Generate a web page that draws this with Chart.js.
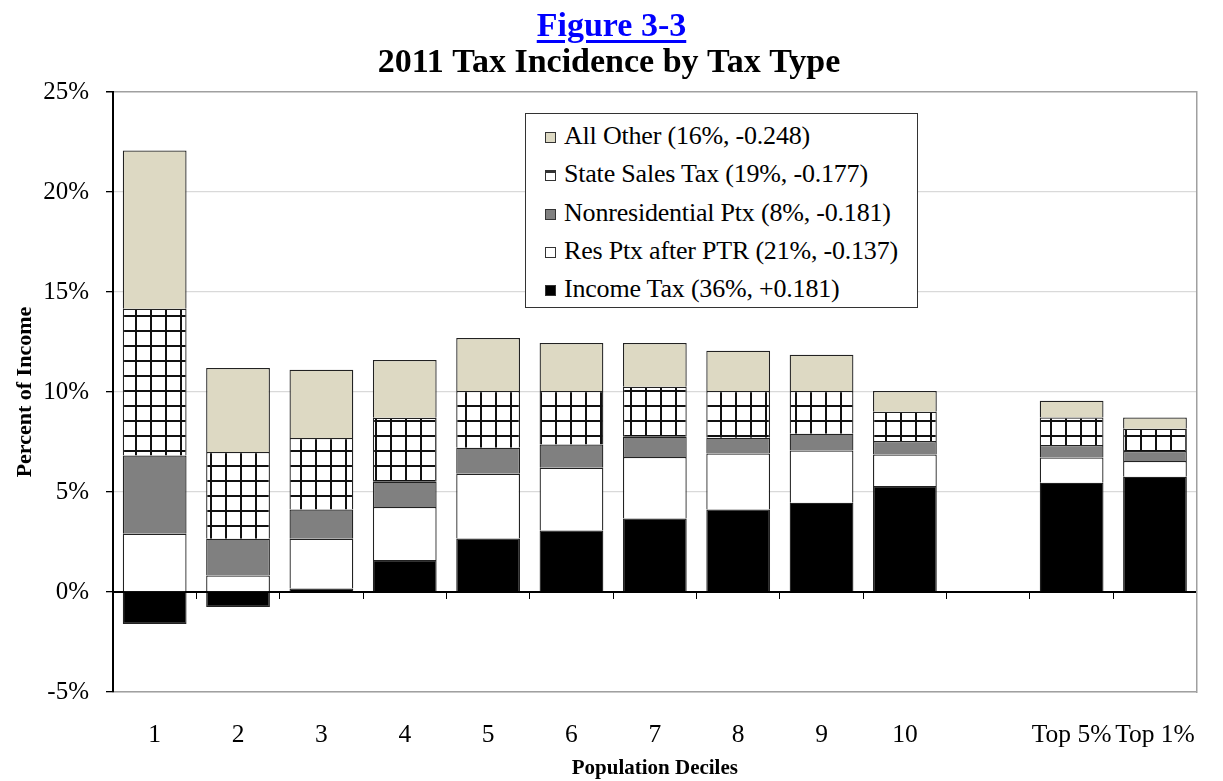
<!DOCTYPE html>
<html>
<head>
<meta charset="utf-8">
<script src="https://cdn.jsdelivr.net/npm/chart.js@4/dist/chart.umd.min.js"></script>
<style>
  html, body { margin:0; padding:0; background:#fff; }
  #wrap { position:relative; width:1223px; height:781px; }
  #fig { position:absolute; left:0; top:5px; width:1223px; text-align:center; line-height:40px;
         font-family:"Liberation Serif", serif; font-weight:bold; font-size:34px; color:#0000ff; }
  #fig span { text-decoration:underline; text-decoration-thickness:3px; text-underline-offset:4px; }
  #legend { position:absolute; left:525px; top:113px; width:393px; height:195px;
            border:1.5px solid #333; background:#fff; box-sizing:border-box;
            font-family:"Liberation Serif", serif; font-size:26px; color:#000; padding-top:3px; }
  .item { height:38.3px; line-height:38.3px; padding-left:19px; white-space:nowrap; letter-spacing:-0.2px; }
  .sw { display:inline-block; width:11px; height:11px; border:1px solid #333; margin-right:8px; vertical-align:1px; box-sizing:border-box; }
</style>
</head>
<body>
<div id="wrap">
  <canvas id="c" width="1223" height="781"></canvas>
  <div id="fig"><span>Figure 3-3</span></div>
  <div id="legend"></div>
</div>
<script>
const categories = ['1','2','3','4','5','6','7','8','9','10','','Top 5%','Top 1%'];
const incomeTax   = [-1.6, -0.75, 0.18, 1.6, 2.68, 3.08, 3.68, 4.13, 4.47, 5.3, null, 5.47, 5.77];
const resPtx      = [2.92, 0.83, 2.49, 2.65, 3.24, 3.14, 3.07, 2.80, 2.61, 1.58, null, 1.26, 0.78];
const nonresPtx   = [3.91, 1.84, 1.46, 1.27, 1.30, 1.16, 1.02, 0.79, 0.84, 0.67, null, 0.62, 0.50];
const salesTax    = [7.34, 4.33, 3.57, 3.20, 2.83, 2.67, 2.50, 2.33, 2.13, 1.47, null, 1.38, 1.12];
const allOther    = [7.91, 4.20, 3.42, 2.88, 2.65, 2.40, 2.18, 2.02, 1.82, 1.03, null, 0.84, 0.56];
const seriesNames = {
  income: 'Income Tax (36%, +0.181)',
  res: 'Res Ptx after PTR (21%, -0.137)',
  nonres: 'Nonresidential Ptx (8%, -0.181)',
  sales: 'State Sales Tax (19%, -0.177)',
  other: 'All Other (16%, -0.248)'
};
const yTicks = [-5, 0, 5, 10, 15, 20, 25];

const canvas = document.getElementById('c');
const ctx = canvas.getContext('2d');
function gridPattern() {
  const p = document.createElement('canvas');
  p.width = 15; p.height = 15;
  const g = p.getContext('2d');
  g.fillStyle = '#fff'; g.fillRect(0, 0, 15, 15);
  g.fillStyle = '#111';
  g.fillRect(0, 0, 2, 15);
  g.fillRect(0, 0, 15, 2);
  return ctx.createPattern(p, 'repeat');
}
const serif = '"Liberation Serif", "Times New Roman", serif';
const common = { borderColor: '#222', borderWidth: 1.3, barPercentage: 0.765, categoryPercentage: 1.0, stack: 's' };

const datasets = [
  Object.assign({ label: seriesNames.income, data: incomeTax, backgroundColor: '#000000' }, common),
  Object.assign({ label: seriesNames.res, data: resPtx, backgroundColor: '#ffffff' }, common),
  Object.assign({ label: seriesNames.nonres, data: nonresPtx, backgroundColor: '#808080' }, common),
  Object.assign({ label: seriesNames.sales, data: salesTax, backgroundColor: gridPattern() }, common),
  Object.assign({ label: seriesNames.other, data: allOther, backgroundColor: '#ddd9c3' }, common)
];

// HTML legend (reverse order like the original)
const swatchCss = ['background:#000', 'background:#fff', 'background:#808080',
                   'background:#fff;border-top:3px solid #333', 'background:#ddd9c3'];
const leg = document.getElementById('legend');
for (let i = datasets.length - 1; i >= 0; i--) {
  const d = document.createElement('div');
  d.className = 'item';
  d.innerHTML = '<span class="sw" style="' + swatchCss[i] + '"></span>' + datasets[i].label;
  leg.appendChild(d);
}

new Chart(ctx, {
  type: 'bar',
  data: { labels: categories, datasets: datasets },
  options: {
    responsive: false,
    animation: false,
    layout: { padding: { top: 44, left: 0, right: 5, bottom: 0 } },
    plugins: {
      legend: { display: false },
      tooltip: { enabled: false },
      title: {
        display: true,
        text: '2011 Tax Incidence by Tax Type',
        color: '#000',
        font: { family: serif, size: 34, weight: 'bold', lineHeight: 1.15 },
        padding: { top: 0, bottom: 9 }
      }
    },
    scales: {
      x: {
        stacked: true,
        position: 'bottom',
        grid: { display: false, drawTicks: false },
        border: { display: true, color: '#a0a0a0', width: 1.5 },
        ticks: { color: '#000', font: { family: serif, size: 25.5 }, padding: 28, maxRotation: 0, autoSkip: false },
        title: { display: true, text: 'Population Deciles', color: '#000',
                 font: { family: serif, size: 21, weight: 'bold' }, padding: { top: 4, bottom: 0 } },
        afterFit: (s) => { s.height = 89; }
      },
      x0: {
        type: 'category',
        position: { y: 0 },
        stacked: true,
        grid: { offset: true, drawOnChartArea: false, drawTicks: true, tickLength: 6, tickColor: '#000', tickWidth: 1 },
        border: { display: true, color: '#000', width: 2 },
        ticks: { display: false }
      },
      y: {
        stacked: true,
        min: -5, max: 25,
        afterBuildTicks: (s) => { s.ticks = yTicks.map(v => ({ value: v })); },
        grid: { color: (c) => !c.tick ? '#d9d9d9' : (c.tick.value === 0 ? '#000' : (c.tick.value === 25 ? '#a0a0a0' : '#d9d9d9')),
                lineWidth: (c) => c.tick && c.tick.value === 25 ? 1.5 : 1.3,
                drawTicks: true, tickLength: 7, tickColor: '#000' },
        border: { display: true, color: '#000', width: 2 },
        ticks: { color: '#000', font: { family: serif, size: 25 }, padding: 17, callback: (v) => v + '%' },
        title: { display: true, text: 'Percent of Income', color: '#000',
                 font: { family: serif, size: 22, weight: 'bold' }, padding: { top: 12, bottom: 0 } },
        afterFit: (s) => { s.width = 113; }
      },
      yr: {
        position: 'right',
        min: -5, max: 25,
        grid: { drawOnChartArea: false, drawTicks: false },
        border: { display: true, color: '#a0a0a0', width: 1.5 },
        ticks: { display: false },
        afterFit: (s) => { s.width = 0; }
      }
    }
  }
});
</script>
</body>
</html>
